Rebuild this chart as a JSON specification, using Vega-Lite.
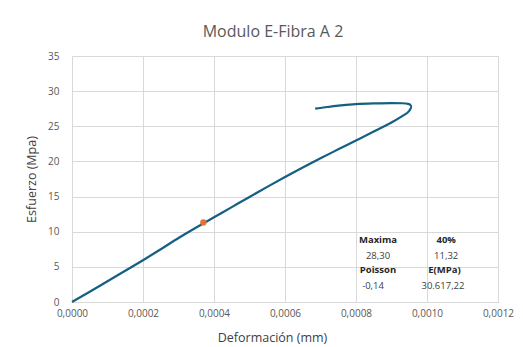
{
  "$schema": "https://vega.github.io/schema/vega-lite/v6.json",
  "width": 426,
  "height": 246,
  "autosize": {"type": "none"},
  "padding": {"left": 72, "top": 56, "right": 25, "bottom": 45},
  "background": "white",
  "config": {
    "locale": {"number": {"decimal": ",", "thousands": ".", "grouping": [3], "currency": ["", ""]}},
    "font": "Open Sans",
    "view": {"stroke": "#d9d9d9", "strokeWidth": 1},
    "axis": {
      "gridColor": "#d9d9d9",
      "domain": false,
      "ticks": false,
      "labelColor": "#595959",
      "labelFontSize": 10,
      "labelFont": "Open Sans",
      "labelFlush": false,
      "labelOverlap": false,
      "titleColor": "#404040",
      "titleFont": "Open Sans",
      "titleFontWeight": "normal",
      "titleFontSize": 12.5
    }
  },
  "title": {
    "text": "Modulo E-Fibra A 2",
    "fontSize": 16,
    "font": "Open Sans",
    "fontWeight": "normal",
    "color": "#595959",
    "anchor": "middle",
    "dx": -12,
    "offset": 11
  },
  "datasets": {
    "curve": [
      {"i": 0, "strain": 0.0, "stress": 0.0},
      {"i": 1, "strain": 0.00005, "stress": 1.45},
      {"i": 2, "strain": 0.0001, "stress": 2.95},
      {"i": 3, "strain": 0.00015, "stress": 4.45},
      {"i": 4, "strain": 0.0002, "stress": 5.95},
      {"i": 5, "strain": 0.00025, "stress": 7.5},
      {"i": 6, "strain": 0.0003, "stress": 9.1},
      {"i": 7, "strain": 0.00035, "stress": 10.6},
      {"i": 8, "strain": 0.0004, "stress": 12.05},
      {"i": 9, "strain": 0.00045, "stress": 13.5},
      {"i": 10, "strain": 0.0005, "stress": 14.95},
      {"i": 11, "strain": 0.00055, "stress": 16.38},
      {"i": 12, "strain": 0.0006, "stress": 17.78},
      {"i": 13, "strain": 0.00065, "stress": 19.13},
      {"i": 14, "strain": 0.0007, "stress": 20.45},
      {"i": 15, "strain": 0.00075, "stress": 21.72},
      {"i": 16, "strain": 0.0008, "stress": 22.98},
      {"i": 17, "strain": 0.00085, "stress": 24.25},
      {"i": 18, "strain": 0.0009, "stress": 25.55},
      {"i": 19, "strain": 0.00093, "stress": 26.45},
      {"i": 20, "strain": 0.00095, "stress": 27.2},
      {"i": 21, "strain": 0.000958, "stress": 27.8},
      {"i": 22, "strain": 0.00095, "stress": 28.15},
      {"i": 23, "strain": 0.00093, "stress": 28.28},
      {"i": 24, "strain": 0.0009, "stress": 28.3},
      {"i": 25, "strain": 0.00085, "stress": 28.25},
      {"i": 26, "strain": 0.0008, "stress": 28.15},
      {"i": 27, "strain": 0.00075, "stress": 27.95},
      {"i": 28, "strain": 0.0007, "stress": 27.6},
      {"i": 29, "strain": 0.000685, "stress": 27.5}
    ],
    "point": [{"strain": 0.00037, "stress": 11.32}],
    "table": [
      {"label": "Maxima", "strain": 0.000862, "stress": 8.8, "bold": true},
      {"label": "40%", "strain": 0.001054, "stress": 8.8, "bold": true},
      {"label": "28,30", "strain": 0.000862, "stress": 6.5, "bold": false},
      {"label": "11,32", "strain": 0.001054, "stress": 6.5, "bold": false},
      {"label": "Poisson", "strain": 0.000862, "stress": 4.55, "bold": true},
      {"label": "E(MPa)", "strain": 0.001049, "stress": 4.55, "bold": true},
      {"label": "-0,14", "strain": 0.000848, "stress": 2.3, "bold": false},
      {"label": "30.617,22", "strain": 0.001045, "stress": 2.3, "bold": false}
    ]
  },
  "encoding": {
    "x": {
      "field": "strain", "type": "quantitative",
      "scale": {"domain": [0, 0.0012], "nice": false, "zero": true},
      "axis": {"values": [0, 0.0002, 0.0004, 0.0006, 0.0008, 0.001, 0.0012], "format": ".4f", "title": "Deformación (mm)", "labelPadding": 6, "titlePadding": 13, "titleX": 200}
    },
    "y": {
      "field": "stress", "type": "quantitative",
      "scale": {"domain": [0, 35], "nice": false},
      "axis": {"values": [0, 5, 10, 15, 20, 25, 30, 35], "title": "Esfuerzo (Mpa)", "labelPadding": 13, "titlePadding": 9}
    }
  },
  "layer": [
    {
      "data": {"name": "curve"},
      "mark": {"type": "line", "color": "#156082", "strokeWidth": 2.2, "interpolate": "monotone"},
      "encoding": {
        "order": {"field": "i", "type": "quantitative"}
      }
    },
    {
      "data": {"name": "point"},
      "mark": {"type": "point", "filled": true, "color": "#E97132", "size": 40, "opacity": 1},
      "encoding": {}
    },
    {
      "data": {"name": "table"},
      "transform": [{"filter": "datum.bold"}],
      "mark": {"type": "text", "fontSize": 9.5, "fontWeight": "bold", "color": "#262626", "align": "center", "baseline": "middle"},
      "encoding": {
        "text": {"field": "label"}
      }
    },
    {
      "data": {"name": "table"},
      "transform": [{"filter": "!datum.bold"}],
      "mark": {"type": "text", "fontSize": 9.5, "color": "#404040", "align": "center", "baseline": "middle"},
      "encoding": {
        "text": {"field": "label"}
      }
    }
  ]
}
